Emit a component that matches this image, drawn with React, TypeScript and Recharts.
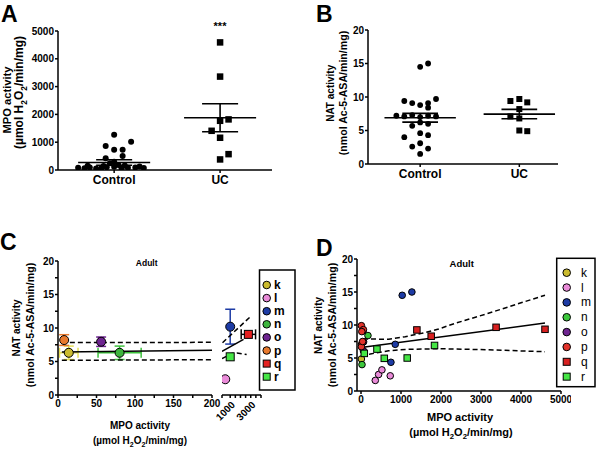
import React from 'react';
import { ScatterChart, Scatter, XAxis, YAxis, ReferenceLine, ErrorBar } from 'recharts';

const FONT = "'Liberation Sans', Arial, Helvetica, sans-serif";

// A: MPO activity per patient
const groups = ['Control', 'UC'];
const mpoControl = [1270, 860, 730, 730, 1020, 420, 500, 300, 240, 180, 150, 140, 160, 130, 80, 60, 90, 50, 70, 100, 120, 60, 80, 90, 70];
const mpoControlJitter = [0, -0.08, 0, 0.08, 0.16, -0.08, 0.08, 0, -0.04, 0.04, -0.25, -0.1, 0.1, 0.24, -0.34, -0.28, -0.23, -0.17, -0.12, -0.07, 0, 0.07, 0.13, 0.2, 0.28];
const mpoUC = [4590, 3360, 1820, 1770, 1410, 1160, 570, 380];
const mpoUCJitter = [0, 0, 0.08, 0, -0.08, 0, 0.08, 0];
const mpoMean = [270, 1880];
const mpoSem = [100, 505];

// B: NAT activity per patient
const natControl = [9.4, 9.1, 8.8, 9.1, 8.4, 9.7, 14.5, 15.0, 7.2, 7.1, 7.3, 7.0, 7.2, 7.1, 5.7, 6.2, 6.0, 4.0, 4.6, 4.3, 2.6, 3.1, 2.3, 1.5];
const natControlJitter = [-0.16, -0.08, 0, 0.08, 0.08, 0.16, 0, 0.08, -0.24, -0.16, -0.08, 0, 0.08, 0.16, -0.08, 0, 0.08, -0.16, 0, 0.08, -0.08, 0, 0.08, 0];
const natUC = [9.4, 9.7, 9.2, 8.2, 7.1, 6.8, 5.0, 4.9];
const natUCJitter = [-0.09, 0, 0.08, 0, -0.09, 0, 0, 0.08];
const natMean = [6.9, 7.45];
const natSem = [0.65, 0.7];

// C: study means (k..r)
const studies = ['k', 'l', 'm', 'n', 'o', 'p', 'q', 'r'];
const studyMpo = [14, 517, 1000, 80, 56, 8, 2770, 1000];
const studyMpoSem = [12, 0, 0, 28, 3, 0, 700, 0];
const studyNat = [6.3, 2.35, 10.2, 6.3, 7.95, 8.2, 9.05, 5.7];
const studyNatSem = [1.0, 0, 2.6, 1.0, 0.7, 0.8, 0, 0];
const studySquare = [false, false, false, false, false, false, true, true];
const colorsC = ['#cbbb2e', '#e98ad8', '#1d3ba5', '#3db53d', '#6e2490', '#e8792d', '#e52020', '#45e645'];
const colorsD = ['#cbbb2e', '#e98ad8', '#1d3ba5', '#3dc83d', '#6e2490', '#e2332b', '#d82020', '#45e645'];
const errColors = ['#e6de55', '#e98ad8', '#1d3ba5', '#3dc23d', '#6e2490', '#e8792d', '#000', '#000'];

// C: regression lines, one set per axis segment
const cFitLeft = [[5, 6.42], [200, 6.67]];
const cUpperLeft = [[5, 7.82], [200, 7.86]];
const cLowerLeft = [[5, 5.18], [200, 5.27]];
const cFitRight = [[200, 6.5], [2300, 8.3]];
const cUpperRight = [[250, 7.8], [2900, 11.6]];
const cLowerRight = [[200, 5.43], [1160, 6.18], [1650, 6.27], [2600, 6.03]];

// D: individual values per study
const dValues = [
  [[10, 4.85]],
  [[357, 1.6], [440, 2.5], [523, 3.2], [731, 2.3]],
  [[1030, 14.5], [1272, 15.0], [856, 7.07], [748, 4.35]],
  [[174, 8.4], [25, 4.0]],
  [[50, 9.1], [65, 7.45], [60, 6.1]],
  [[10, 9.9], [60, 9.3], [20, 9.0], [15, 7.1], [10, 6.7], [40, 7.5]],
  [[1397, 9.25], [1755, 8.3], [3377, 9.65], [4600, 9.35]],
  [[82, 5.7], [399, 6.35], [582, 4.95], [1155, 5.0], [1838, 6.9]],
];
const dFit = [[0, 6.6], [4600, 10.3]];
const dUpper = [[50, 7.9], [690, 7.83], [1105, 8.23], [1520, 8.74], [1940, 9.39], [2350, 10.25], [3185, 11.77], [4020, 13.4], [4600, 14.5]];
const dLower = [[0, 5.45], [230, 5.6], [690, 6.1], [1105, 6.3], [1940, 6.41], [2770, 6.31], [3600, 6.16], [4600, 5.95]];

const pairs = (a: number[][]) => a.map(([x, y]) => ({ x, y }));
const jittered = (vals: number[], jit: number[], c: number) => vals.map((y, i) => ({ x: c + jit[i], y }));

const circle = (fill: string, r: number, stroke = 'none') => (p: any) => (
  <circle cx={p.cx} cy={p.cy} r={r} fill={fill} stroke={stroke} strokeWidth={1} />
);
const square = (fill: string, s: number, stroke = 'none') => (p: any) => (
  <rect x={p.cx - s / 2} y={p.cy - s / 2} width={s} height={s} fill={fill} stroke={stroke} strokeWidth={1} />
);
const noShape = () => <g />;

const axisLine = { stroke: '#000', strokeWidth: 1.5 };
const tick = { fill: '#000', fontSize: 10, fontWeight: 700, fontFamily: FONT };
const minor = (step: number) => (v: number) => (v % step === 0 ? String(v) : '');

const fitLine = (d: number[][], dashed: boolean, key: string) => (
  <Scatter
    key={key}
    data={pairs(d)}
    shape={noShape}
    line={{ stroke: '#000', strokeWidth: 1.5, strokeDasharray: dashed ? '5 3' : undefined }}
    isAnimationActive={false}
  />
);

const summary = (means: number[], sems: number[], hm: number, hs: number) =>
  means.flatMap((m, i) => {
    const c = i + 1;
    const s = { stroke: '#000', strokeWidth: 1.6 };
    return [
      <ReferenceLine key={`m${i}`} segment={[{ x: c - hm, y: m }, { x: c + hm, y: m }]} {...s} />,
      <ReferenceLine key={`t${i}`} segment={[{ x: c - hs, y: m + sems[i] }, { x: c + hs, y: m + sems[i] }]} {...s} />,
      <ReferenceLine key={`b${i}`} segment={[{ x: c - hs, y: m - sems[i] }, { x: c + hs, y: m - sems[i] }]} {...s} />,
      <ReferenceLine key={`v${i}`} segment={[{ x: c, y: m - sems[i] }, { x: c, y: m + sems[i] }]} {...s} />,
    ];
  });

const studyScatter = (i: number) => (
  <Scatter
    key={studies[i]}
    data={[{ x: studyMpo[i], y: studyNat[i], ex: studyMpoSem[i], ey: studyNatSem[i] }]}
    shape={studySquare[i] ? square(colorsC[i], 8, '#000') : circle(colorsC[i], 4.5, '#000')}
    isAnimationActive={false}
  >
    {studyNatSem[i] > 0 && <ErrorBar dataKey="ey" direction="y" width={5} stroke={errColors[i]} strokeWidth={1.5} />}
    {studyMpoSem[i] > 0 && <ErrorBar dataKey="ex" direction="x" width={5} stroke={errColors[i]} strokeWidth={1.5} />}
  </Scatter>
);

const RotTick = (p: any) => {
  const v = p.payload.value;
  if (v !== 1000 && v !== 3000) return <g />;
  const x = p.x + 3;
  const y = p.y + 3;
  return (
    <text x={x} y={y} transform={`rotate(-45 ${x} ${y})`} textAnchor="end" dy="0.35em" fill="#000" fontSize={10} fontWeight={700} fontFamily={FONT}>
      {v}
    </text>
  );
};

const Unit = ({ size }: { size: number }) => {
  const d = size * 0.3;
  const s = size * 0.7;
  return (
    <>
      (µmol H<tspan fontSize={s} dy={d}>2</tspan>
      <tspan dy={-d}>O</tspan>
      <tspan fontSize={s} dy={d}>2</tspan>
      <tspan dy={-d}>/min/mg)</tspan>
    </>
  );
};

const VLabel = ({ x, y, size, children }: any) => (
  <text transform={`translate(${x},${y}) rotate(-90)`} textAnchor="middle" fontSize={size} fontWeight={700} fontFamily={FONT} fill="#000">
    {children}
  </text>
);

const Label = ({ x, y, size, children, weight = 700, anchor = 'middle' }: any) => (
  <text x={x} y={y} textAnchor={anchor} fontSize={size} fontWeight={weight} fontFamily={FONT} fill="#000">
    {children}
  </text>
);

const LegendBox = ({ x, y, w, h, y0, dy, mx, tx, colors, weight }: any) => (
  <g>
    <rect x={x} y={y} width={w} height={h} fill="#fff" stroke="#000" strokeWidth={1.5} />
    {studies.map((s, i) => {
      const cy = y0 + i * dy;
      return (
        <g key={s}>
          {studySquare[i] ? (
            <rect x={mx - 3.5} y={cy - 3.5} width={7} height={7} fill={colors[i]} stroke="#000" strokeWidth={1} />
          ) : (
            <circle cx={mx} cy={cy} r={3.8} fill={colors[i]} stroke="#000" strokeWidth={1} />
          )}
          <Label x={tx} y={cy + 4} size={12} weight={weight} anchor="start">{s}</Label>
        </g>
      );
    })}
  </g>
);

export default function App() {
  return (
    <div style={{ position: 'absolute', left: 0, top: 0, width: 600, height: 456, background: '#fff', overflow: 'hidden' }}>
      {/* A */}
      <div style={{ position: 'absolute', left: 0, top: 0 }}>
        <ScatterChart width={290} height={200} margin={{ top: 31, right: 18, bottom: 0, left: 0 }}>
          <XAxis type="number" dataKey="x" domain={[0.47, 2.49]} ticks={[1, 2]} interval={0} allowDataOverflow
            tickFormatter={(v: number) => groups[v - 1]} axisLine={axisLine} tickLine={axisLine} tickSize={3}
            tick={{ ...tick, fontSize: 12 }} height={30} />
          <YAxis type="number" dataKey="y" domain={[0, 5000]} ticks={[0, 1000, 2000, 3000, 4000, 5000]} interval={0}
            allowDataOverflow axisLine={axisLine} tickLine={axisLine} tickSize={3} tickMargin={1} tick={tick} width={58} />
          <Scatter data={jittered(mpoControl, mpoControlJitter, 1)} shape={circle('#000', 3)} isAnimationActive={false} />
          <Scatter data={jittered(mpoUC, mpoUCJitter, 2)} shape={square('#000', 6.5)} isAnimationActive={false} />
          {summary(mpoMean, mpoSem, 0.34, 0.17)}
        </ScatterChart>
      </div>

      {/* B */}
      <div style={{ position: 'absolute', left: 310, top: 0 }}>
        <ScatterChart width={270} height={194} margin={{ top: 30, right: 22, bottom: 0, left: 0 }}>
          <XAxis type="number" dataKey="x" domain={[0.474, 2.39]} ticks={[1, 2]} interval={0} allowDataOverflow
            tickFormatter={(v: number) => groups[v - 1]} axisLine={axisLine} tickLine={axisLine} tickSize={3}
            tick={{ ...tick, fontSize: 12 }} height={30} />
          <YAxis type="number" dataKey="y" domain={[0, 20]} ticks={[0, 5, 10, 15, 20]} interval={0}
            allowDataOverflow axisLine={axisLine} tickLine={axisLine} tickSize={3} tickMargin={1} tick={tick} width={58} />
          <Scatter data={jittered(natControl, natControlJitter, 1)} shape={circle('#000', 2.9)} isAnimationActive={false} />
          <Scatter data={jittered(natUC, natUCJitter, 2)} shape={square('#000', 6)} isAnimationActive={false} />
          {summary(natMean, natSem, 0.36, 0.18)}
        </ScatterChart>
      </div>

      {/* C, left segment */}
      <div style={{ position: 'absolute', left: 0, top: 230 }}>
        <ScatterChart width={222} height={205} margin={{ top: 31, right: 10, bottom: 0, left: 0 }}>
          <XAxis type="number" dataKey="x" domain={[0, 200]} ticks={[0, 25, 50, 75, 100, 125, 150, 175, 200]} interval={0}
            allowDataOverflow tickFormatter={minor(50)} axisLine={axisLine} tickLine={axisLine} tickSize={3} tick={tick} height={40} />
          <YAxis type="number" dataKey="y" domain={[0, 20]} ticks={[0, 2.5, 5, 7.5, 10, 12.5, 15, 17.5, 20]} interval={0}
            allowDataOverflow tickFormatter={minor(5)} axisLine={axisLine} tickLine={axisLine} tickSize={3} tickMargin={1} tick={tick} width={58} />
          {fitLine(cUpperLeft, true, 'u')}
          {fitLine(cLowerLeft, true, 'l')}
          {fitLine(cFitLeft, false, 'f')}
          {studies.map((s, i) => (studyMpo[i] <= 200 ? studyScatter(i) : null))}
        </ScatterChart>
      </div>

      {/* C, right segment */}
      <div style={{ position: 'absolute', left: 191, top: 230 }}>
        <ScatterChart width={80} height={205} margin={{ top: 31, right: 10, bottom: 0, left: 31 }}>
          <XAxis type="number" dataKey="x" domain={[200, 4000]} ticks={[200, 1000, 1500, 2000, 2500, 3000, 3500, 4000]} interval={0}
            allowDataOverflow axisLine={axisLine} tickLine={axisLine} tickSize={3} tick={<RotTick />} height={40} />
          <YAxis hide type="number" dataKey="y" domain={[0, 20]} allowDataOverflow />
          {fitLine(cUpperRight, true, 'u')}
          {fitLine(cLowerRight, true, 'l')}
          {fitLine(cFitRight, false, 'f')}
          {studies.map((s, i) => (studyMpo[i] > 200 ? studyScatter(i) : null))}
        </ScatterChart>
      </div>

      {/* D */}
      <div style={{ position: 'absolute', left: 300, top: 230 }}>
        <ScatterChart width={271} height={191} margin={{ top: 29, right: 10, bottom: 0, left: 0 }}>
          <XAxis type="number" dataKey="x" domain={[-100, 5000]} ticks={[0, 1000, 2000, 3000, 4000, 5000]} interval={0}
            allowDataOverflow axisLine={axisLine} tickLine={axisLine} tickSize={3} tick={tick} height={30} />
          <YAxis type="number" dataKey="y" domain={[0, 20]} ticks={[0, 2.5, 5, 7.5, 10, 12.5, 15, 17.5, 20]} interval={0}
            allowDataOverflow tickFormatter={minor(5)} axisLine={axisLine} tickLine={axisLine} tickSize={3} tickMargin={1} tick={tick} width={57} />
          {fitLine(dUpper, true, 'u')}
          {fitLine(dLower, true, 'l')}
          {fitLine(dFit, false, 'f')}
          {studies.map((s, i) => (
            <Scatter key={s} data={pairs(dValues[i])} isAnimationActive={false}
              shape={studySquare[i] ? square(colorsD[i], 6.5, '#000') : circle(colorsD[i], 3.3, '#000')} />
          ))}
        </ScatterChart>
      </div>

      {/* text and legends */}
      <svg width={600} height={456} style={{ position: 'absolute', left: 0, top: 0, pointerEvents: 'none' }}>
        <Label x={1} y={21.5} size={23} anchor="start">A</Label>
        <Label x={316} y={21.5} size={23} anchor="start">B</Label>
        <Label x={0} y={250} size={23} anchor="start">C</Label>
        <Label x={316} y={256} size={23} anchor="start">D</Label>

        <Label x={220} y={29.5} size={11}>***</Label>
        <VLabel x={11} y={100} size={11.2}>MPO activity</VLabel>
        <VLabel x={23} y={92.5} size={12}><Unit size={12} /></VLabel>

        <VLabel x={334} y={93.3} size={10}>NAT activity</VLabel>
        <VLabel x={347} y={93} size={10.6}>(nmol Ac-5-ASA/min/mg)</VLabel>

        <VLabel x={20} y={328} size={10}>NAT activity</VLabel>
        <VLabel x={34.4} y={325} size={10.6}>(nmol Ac-5-ASA/min/mg)</VLabel>
        <Label x={146.7} y={266} size={8.5}>Adult</Label>
        <Label x={140} y={429} size={10}>MPO activity</Label>
        <Label x={140} y={444} size={10}><Unit size={10} /></Label>
        <LegendBox x={259.5} y={270} w={35.5} h={120} y0={285} dy={13.1} mx={266.7} tx={274} colors={colorsC} weight={700} />

        <VLabel x={322} y={325.5} size={10}>NAT activity</VLabel>
        <VLabel x={335.7} y={325} size={10.6}>(nmol Ac-5-ASA/min/mg)</VLabel>
        <Label x={461.7} y={266.8} size={9.5}>Adult</Label>
        <Label x={460} y={420.6} size={11}>MPO activity</Label>
        <Label x={461} y={436} size={11}><Unit size={11} /></Label>
        <LegendBox x={556.7} y={258.3} w={38.3} h={128.4} y0={272.7} dy={14.85} mx={566.7} tx={581} colors={colorsD} weight={400} />
      </svg>
    </div>
  );
}
